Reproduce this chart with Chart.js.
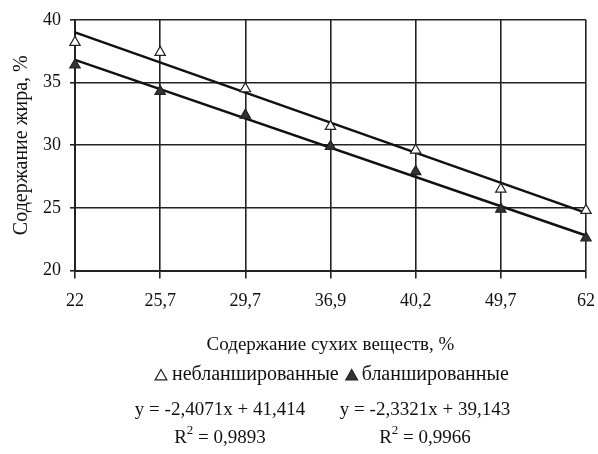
<!DOCTYPE html>
<html>
<head>
<meta charset="utf-8">
<script src="https://cdn.jsdelivr.net/npm/chart.js@4"></script>
<style>
  html, body { margin: 0; padding: 0; background: #fff; }
  #wrap { width: 598px; height: 454px; }
</style>
</head>
<body>
<div id="wrap"><canvas id="fatChart" width="598" height="454"></canvas></div>
<script>
// Data
const categories = ['22', '25,7', '29,7', '36,9', '40,2', '49,7', '62'];
const unblanched = [38.2, 37.4, 34.5, 31.5, 29.6, 26.5, 24.8];
const blanched = [36.4, 34.3, 32.4, 29.9, 27.9, 24.9, 22.6];
// trend line ends (first and last category)
const unblanchedTrend = [39.0, 24.6];
const blanchedTrend = [36.8, 22.8];
const yTicks = [20, 25, 30, 35, 40];
const seriesNames = ['небланшированные', 'бланшированные'];
const equations = [
  { eq: 'y = -2,4071x + 41,414', r2: '0,9893' },
  { eq: 'y = -2,3321x + 39,143', r2: '0,9966' }
];

const serif = "'Liberation Serif', 'Times New Roman', serif";
Chart.defaults.font.family = serif;
Chart.defaults.color = '#111';

function trendData(ends) {
  const d = categories.map(() => null);
  d[0] = ends[0];
  d[categories.length - 1] = ends[1];
  return d;
}

// legend line + trend equations under the x axis title
const bottomTextPlugin = {
  id: 'bottomText',
  afterDraw(chart) {
    const ctx = chart.ctx;
    ctx.save();

    // legend
    ctx.font = '20px ' + serif;
    ctx.textBaseline = 'middle';
    ctx.textAlign = 'left';
    const ly = 376;
    const r = 6.5;
    let x = 161;
    [0, 1].forEach(i => {
      const ds = chart.data.datasets[i];
      ctx.fillStyle = ds.pointBackgroundColor;
      ctx.strokeStyle = ds.pointBorderColor;
      ctx.lineWidth = 1.2;
      ctx.beginPath();
      ctx.moveTo(x, ly - r);
      ctx.lineTo(x + r * 0.9, ly + r * 0.6);
      ctx.lineTo(x - r * 0.9, ly + r * 0.6);
      ctx.closePath();
      ctx.fill();
      ctx.stroke();
      ctx.fillStyle = '#111';
      const tx = x + (i === 0 ? 11 : 10);
      ctx.fillText(seriesNames[i], tx, ly - 1);
      x = tx + ctx.measureText(seriesNames[i]).width + 13;
    });

    // equations
    const centres = [220, 425];
    ctx.textBaseline = 'alphabetic';
    equations.forEach((e, i) => {
      ctx.font = '19px ' + serif;
      ctx.textAlign = 'center';
      ctx.fillText(e.eq, centres[i], 415);
      const rest = ' = ' + e.r2;
      const wR = ctx.measureText('R').width;
      ctx.font = '13px ' + serif;
      const w2 = ctx.measureText('2').width;
      ctx.font = '19px ' + serif;
      const wRest = ctx.measureText(rest).width;
      let ex = centres[i] - (wR + w2 + wRest) / 2;
      ctx.textAlign = 'left';
      ctx.fillText('R', ex, 443);
      ex += wR;
      ctx.font = '13px ' + serif;
      ctx.fillText('2', ex, 434);
      ex += w2;
      ctx.font = '19px ' + serif;
      ctx.fillText(rest, ex, 443);
    });
    ctx.restore();
  }
};

new Chart(document.getElementById('fatChart'), {
  type: 'line',
  data: {
    labels: categories,
    datasets: [
      {
        label: seriesNames[0],
        data: unblanched,
        showLine: false,
        pointStyle: 'triangle',
        pointRadius: 6,
        pointBorderWidth: 1.2,
        pointBackgroundColor: '#ffffff',
        pointBorderColor: '#222',
        borderColor: '#222',
        backgroundColor: '#ffffff',
        order: 1
      },
      {
        label: seriesNames[1],
        data: blanched,
        showLine: false,
        pointStyle: 'triangle',
        pointRadius: 6,
        pointBorderWidth: 1.2,
        pointBackgroundColor: '#333',
        pointBorderColor: '#222',
        borderColor: '#222',
        backgroundColor: '#333',
        order: 1
      },
      {
        label: 'trend1',
        data: trendData(unblanchedTrend),
        spanGaps: true,
        borderColor: '#111',
        borderWidth: 2.5,
        pointRadius: 0,
        fill: false,
        order: 2
      },
      {
        label: 'trend2',
        data: trendData(blanchedTrend),
        spanGaps: true,
        borderColor: '#111',
        borderWidth: 2.5,
        pointRadius: 0,
        fill: false,
        order: 2
      }
    ]
  },
  options: {
    responsive: false,
    animation: false,
    layout: { padding: { top: 18, right: 9, left: 10, bottom: 90 } },
    plugins: {
      tooltip: { enabled: false },
      legend: { display: false }
    },
    scales: {
      x: {
        offset: false,
        grid: { color: '#222', lineWidth: 1.6, tickLength: 8, tickColor: '#222' },
        border: { color: '#222', width: 2 },
        ticks: { font: { size: 18, family: serif, lineHeight: 2.2 }, color: '#111', padding: 3, maxRotation: 0 },
        title: {
          display: true,
          text: 'Содержание сухих веществ, %',
          font: { size: 19, family: serif },
          color: '#111',
          padding: { top: 9, bottom: 8 }
        }
      },
      y: {
        min: 20,
        max: 40,
        afterBuildTicks: scale => { scale.ticks = yTicks.map(v => ({ value: v })); },
        grid: { color: '#222', lineWidth: 1.6, tickLength: 5, tickColor: '#222' },
        border: { color: '#222', width: 2 },
        ticks: { font: { size: 18, family: serif }, color: '#111', padding: 9 },
        title: {
          display: true,
          text: 'Содержание жира, %',
          font: { size: 20, family: serif },
          color: '#111',
          padding: { top: 0, bottom: 0 }
        }
      }
    }
  },
  plugins: [bottomTextPlugin]
});
</script>
</body>
</html>
